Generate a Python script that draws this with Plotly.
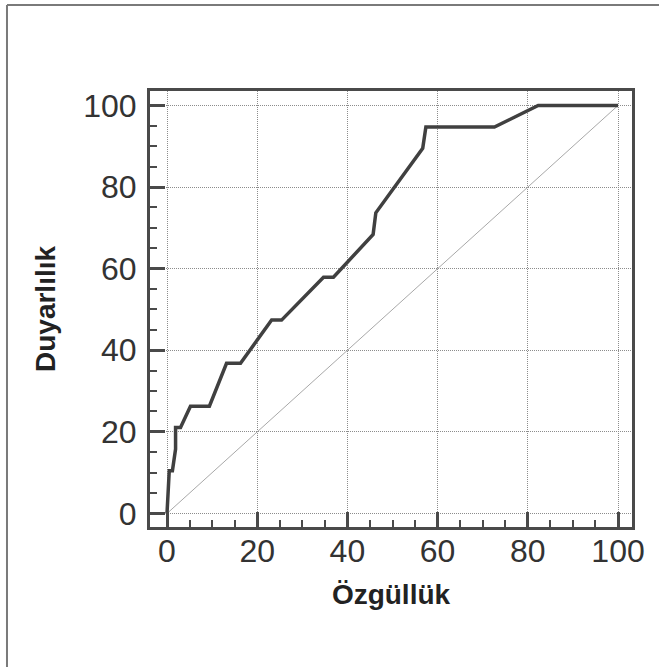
import plotly.graph_objects as go

# ROC curve values
specificity = [0, 0.5, 1.2, 1.9, 1.9, 3.0, 5.2, 9.4, 13.2, 16.3, 23.2, 25.4, 34.7, 36.9,
               45.7, 46.3, 56.7, 57.4, 72.6, 82.3, 100]
sensitivity = [0, 10.5, 10.5, 15.8, 21.1, 21.1, 26.3, 26.3, 36.8, 36.8, 47.4, 47.4, 57.9, 57.9,
               68.4, 73.7, 89.5, 94.7, 94.7, 100, 100]
diag_x = [0, 100]
diag_y = [0, 100]
tick_vals = [0, 20, 40, 60, 80, 100]
x_title = "Özgüllük"
y_title = "Duyarlılık"

FONT = "Liberation Sans, Arial, sans-serif"

fig = go.Figure()
fig.add_trace(go.Scatter(x=diag_x, y=diag_y, mode="lines",
                         line=dict(color="#a8a8a8", width=1), hoverinfo="skip"))
fig.add_trace(go.Scatter(x=specificity, y=sensitivity, mode="lines",
                         line=dict(color="#404040", width=3.5)))

axis_common = dict(
    tickvals=tick_vals,
    showgrid=True, gridcolor="#8c8c8c", gridwidth=1, griddash="1px,1px",
    showline=True, linecolor="#4a4a4a", linewidth=3, mirror=True,
    ticks="inside", ticklen=15, tickwidth=3, tickcolor="#4a4a4a",
    minor=dict(dtick=5, ticks="inside", ticklen=7, tickwidth=2, tickcolor="#4a4a4a", showgrid=False),
    tickfont=dict(family=FONT, size=32, color="#333333"),
    zeroline=False,
    automargin=False,
)

fig.update_xaxes(range=[-3.77, 103.1], ticklabelstandoff=-6,
                 title=dict(text=x_title, standoff=16,
                            font=dict(family=FONT, size=28, color="#222222", weight="bold")),
                 **axis_common)
fig.update_yaxes(range=[-3.31, 103.55], ticklabelstandoff=4,
                 title=dict(text=y_title, standoff=20,
                            font=dict(family=FONT, size=28, color="#222222", weight="bold")),
                 **axis_common)

fig.update_layout(
    width=659, height=667,
    margin=dict(l=150, r=27, t=91, b=140, autoexpand=False),
    paper_bgcolor="white", plot_bgcolor="white",
    showlegend=False,
    shapes=[
        dict(type="line", xref="paper", yref="paper", x0=-0.2967, x1=1.06, y0=1.1972, y1=1.1972,
             line=dict(color="#7a7a7a", width=2)),
        dict(type="line", xref="paper", yref="paper", x0=-0.2967, x1=-0.2967, y0=1.1972, y1=-0.33,
             line=dict(color="#7a7a7a", width=2)),
    ],
)

fig.write_html("out.html", config={"displayModeBar": False},
               post_script="document.body.style.margin='0';document.body.style.padding='0';")
